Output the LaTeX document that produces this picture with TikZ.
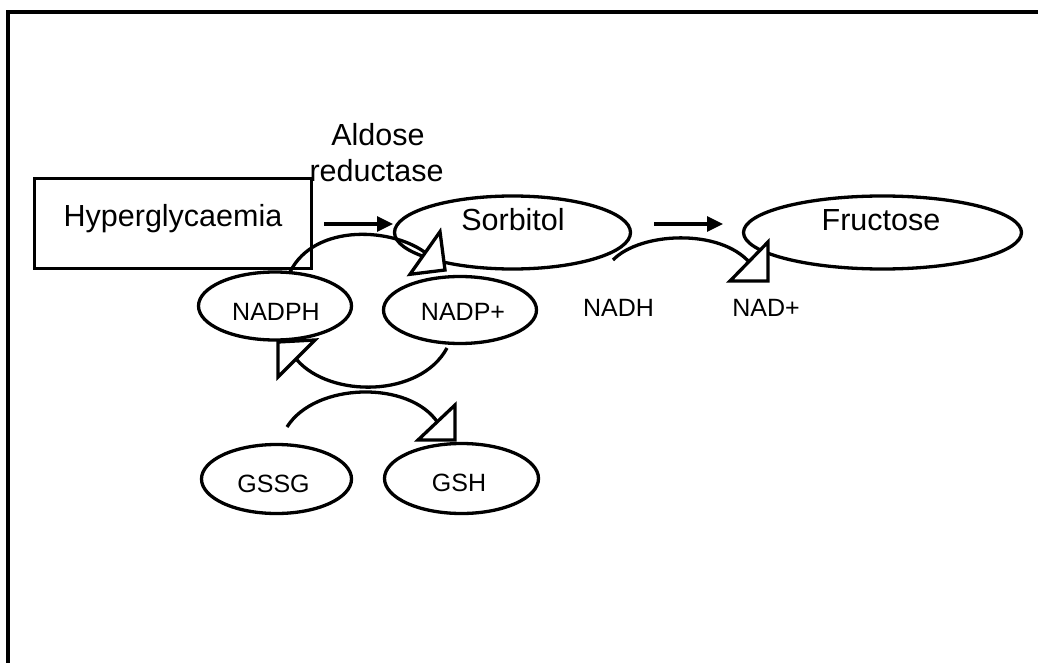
\documentclass[tikz,border=0pt]{standalone}
\usepackage{fontspec}
\setmainfont{Liberation Sans}
\usetikzlibrary{shapes.geometric,arrows.meta}
\begin{document}
\begin{tikzpicture}[x=1pt,y=-1pt, line width=3.3pt,
  big/.style={font=\fontsize{30.5}{36}\selectfont, inner sep=0pt, anchor=base},
  small/.style={font=\fontsize{25}{30}\selectfont, inner sep=0pt, anchor=base},
  oval/.style={draw, ellipse, inner sep=0pt},
  arr/.style={-{Triangle[length=16pt,width=15pt]}},
  tri/.style={draw, fill=white, line join=miter}]
\useasboundingbox (0,0) rectangle (1038,663);
\draw (1038,12) -- (8,12) -- (8,663);

% boxes and ovals
\node[draw, minimum width=277pt, minimum height=90pt, inner sep=0pt] (hyper) at (173,223.5) {};
\node[oval, minimum width=236pt, minimum height=73pt] (sorb) at (512.5,232.5) {};
\node[oval, minimum width=278pt, minimum height=73pt] (fruc) at (882.5,232.5) {};
\node[oval, minimum width=153pt, minimum height=68pt] (nadph) at (275,306) {};
\node[oval, minimum width=153pt, minimum height=67pt] (nadp) at (460,310) {};
\node[oval, minimum width=150pt, minimum height=69pt] (gssg) at (276.5,479) {};
\node[oval, minimum width=154pt, minimum height=70pt] (gsh) at (461.5,478.5) {};

% texts
\node[big] (thyper) at (173,226) {Hyperglycaemia};
\node[big] (tsorb) at (513,230.5) {Sorbitol};
\node[big] (tfruc) at (881,230.5) {Fructose};
\node[big] (tald) at (378,146) {Aldose};
\node[big] (tred) at (376.5,181.5) {reductase};
\node[small] (tnadph) at (276,320) {NADPH};
\node[small] (tnadp) at (463,320.5) {NADP+};
\node[small] (tnadh) at (618.5,316.7) {NADH};
\node[small] (tnad) at (766,316.7) {NAD+};
\node[small] (tgssg) at (273.5,492.5) {GSSG};
\node[small] (tgsh) at (459,491) {GSH};

% straight arrows
\coordinate (a1s) at (324,224);
\coordinate (a1e) at (393,224);
\coordinate (a2s) at (654,224);
\coordinate (a2e) at (723,224);
\draw[arr] (a1s) -- (a1e);
\draw[arr] (a2s) -- (a2e);

% curved arrows
\coordinate (c1s) at (290,272);
\coordinate (c1e) at (427,254);
\draw (c1s) .. controls (315,222) and (395,228) .. (c1e);
\coordinate (c2s) at (613,260);
\coordinate (c2e) at (750,263);
\draw (c2s) .. controls (640,232) and (720,228) .. (c2e);
\coordinate (c3s) at (447,348);
\coordinate (c3e) at (297,360);
\draw (c3s) .. controls (420,398) and (330,398) .. (c3e);
\coordinate (c4s) at (287,427);
\coordinate (c4e) at (438,423);
\draw (c4s) .. controls (315,382) and (410,380) .. (c4e);

% open arrowheads
\draw[tri] (440,231.7) -- (445,270) -- (410,274.3) -- cycle;
\draw[tri] (768,242) -- (768,281) -- (730,281) -- cycle;
\draw[tri] (278,342) -- (315,340) -- (278,377) -- cycle;
\draw[tri] (455,405) -- (455,440) -- (418,440) -- cycle;
\end{tikzpicture}
\end{document}
